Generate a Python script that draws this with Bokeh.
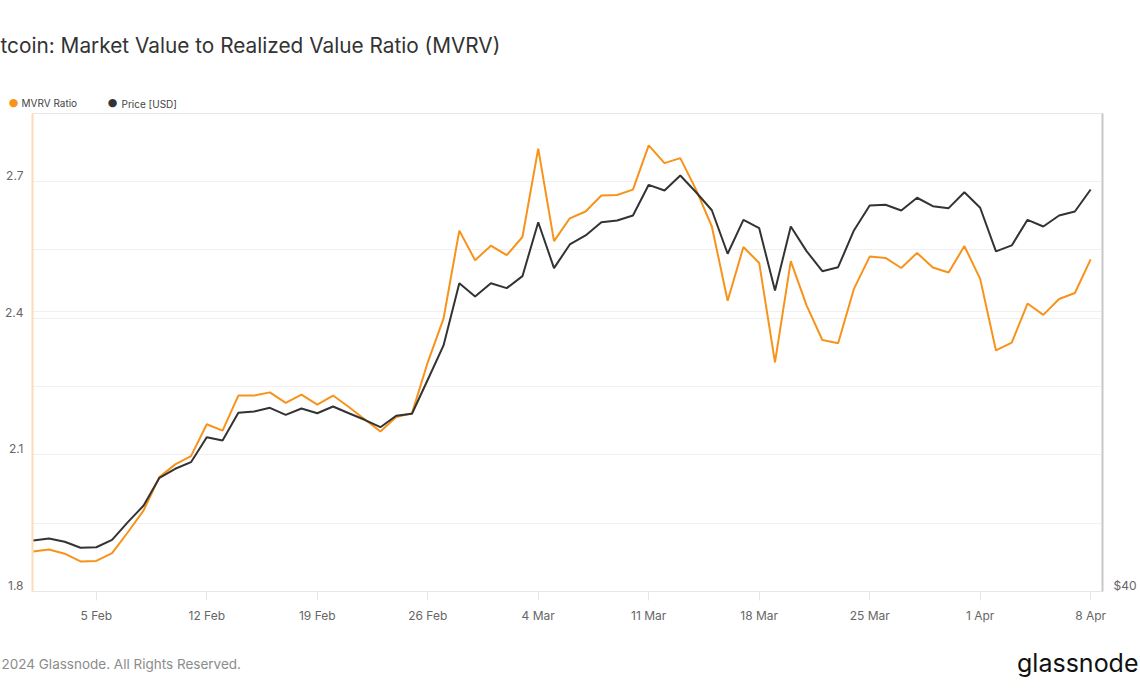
from datetime import datetime
import pandas as pd
from bokeh.plotting import figure
from bokeh.models import (Range1d, LinearAxis, LogAxis, LogScale, FixedTicker, Grid,
                          Label, ColumnDataSource)
from bokeh.embed import file_html
from bokeh.resources import INLINE

# ---------------- data ----------------
dates = pd.date_range("2024-02-01", "2024-04-08", freq="D")

mvrv = [
    # Feb
    1.888, 1.892, 1.883, 1.866, 1.867, 1.884, 1.930, 1.978, 2.051, 2.079,
    2.097, 2.167, 2.153, 2.230, 2.230, 2.237, 2.214, 2.232, 2.210, 2.230,
    2.205, 2.178, 2.151, 2.183, 2.191, 2.303, 2.399, 2.592, 2.527,
    # Mar
    2.559, 2.538, 2.578, 2.772, 2.569, 2.619, 2.634, 2.669, 2.670, 2.682,
    2.779, 2.740, 2.751, 2.682, 2.601, 2.438, 2.556, 2.521, 2.303, 2.525,
    2.428, 2.352, 2.345, 2.464, 2.535, 2.532, 2.510, 2.543, 2.511, 2.500,
    2.558,
    # Apr
    2.486, 2.329, 2.346, 2.432, 2.407, 2.442, 2.455, 2.529,
]

price = [
    # Feb
    43070, 43200, 42990, 42620, 42650, 43110, 44230, 45310, 47170, 47790,
    48250, 50030, 49790, 51830, 51930, 52210, 51680, 52160, 51800, 52310,
    51800, 51310, 50760, 51610, 51760, 54380, 57150, 62550, 61360,
    # Mar
    62550, 62100, 63190, 68330, 63930, 66160, 67030, 68330, 68500, 69000,
    72140, 71550, 73120, 71370, 69530, 65280, 68570, 67740, 61890, 67910,
    65530, 63650, 64020, 67520, 70010, 70080, 69500, 70800, 69940, 69740,
    71370,
    # Apr
    69780, 65500, 66070, 68570, 67910, 69000, 69400, 71650,
]

x_tick_dates = ["2024-02-05", "2024-02-12", "2024-02-19", "2024-02-26", "2024-03-04",
                "2024-03-11", "2024-03-18", "2024-03-25", "2024-04-01", "2024-04-08"]
x_tick_labels = ["5 Feb", "12 Feb", "19 Feb", "26 Feb", "4 Mar",
                 "11 Mar", "18 Mar", "25 Mar", "1 Apr", "8 Apr"]

mvrv_ticks = [1.8, 2.1, 2.4, 2.7]
mvrv_grid = [1.95, 2.1, 2.25, 2.4, 2.55, 2.7]
price_ticks = [40000]
price_tick_labels = ["$40"]
price_grid = [60000]

series_names = ["MVRV Ratio", "Price [USD]"]
title_text = "tcoin: Market Value to Realized Value Ratio (MVRV)"
footer_text = "2024 Glassnode. All Rights Reserved."
logo_text = "glassnode"

# ---------------- styling ----------------
ORANGE = "#F7931A"
DARK = "#333333"
FONT = "Inter"

W, H = 1140, 694
ML, MR, MT, MB = 32, 38, 113, 103
FRAME_H = H - MT - MB

y0, y1 = 1.8, 2.849
p0, p1 = 40000, 80000
lab_shift = 6 / (FRAME_H / (y1 - y0))          # tick labels sit 6px above their gridline
price_shift = 2 ** (6 / FRAME_H)

p = figure(width=W, height=H, x_axis_type="datetime", y_axis_location=None,
           x_range=Range1d(datetime(2024, 1, 31, 23), datetime(2024, 4, 8, 18)),
           y_range=Range1d(y0, y1),
           output_backend="svg", toolbar_location=None,
           min_border_left=ML, min_border_right=MR, min_border_top=MT, min_border_bottom=MB,
           background_fill_color="white", border_fill_color="white",
           outline_line_color="#e6e6e6")

p.extra_y_ranges = {
    "price": Range1d(p0, p1),
    "lab": Range1d(y0 - lab_shift, y1 - lab_shift),
    "price_lab": Range1d(p0 / price_shift, p1 / price_shift),
}
p.extra_y_scales = {"price": LogScale(), "price_lab": LogScale()}

p.xgrid.visible = False
p.ygrid.visible = False

p.add_layout(Grid(dimension=1, ticker=FixedTicker(ticks=mvrv_grid),
                  grid_line_color="#f0f0f0", grid_line_width=1))
p.add_layout(Grid(dimension=1, ticker=FixedTicker(ticks=price_grid), y_range_name="price",
                  grid_line_color="#f0f0f0", grid_line_width=1))

src = ColumnDataSource(dict(date=dates, mvrv=mvrv, price=price))
p.line("date", "mvrv", source=src, line_color=ORANGE, line_width=2)
p.line("date", "price", source=src, line_color=DARK, line_width=2, y_range_name="price")

xa = p.xaxis[0]
tick_ms = [int(pd.Timestamp(d).timestamp() * 1000) for d in x_tick_dates]
xa.ticker = FixedTicker(ticks=tick_ms)
xa.major_label_overrides = dict(zip(tick_ms, x_tick_labels))
xa.axis_line_color = "#e6e6e6"
xa.major_tick_in = 0
xa.major_tick_out = 9
xa.major_tick_line_color = "#e6e6e6"
xa.minor_tick_line_color = None
xa.major_label_standoff = 7
xa.major_label_text_font = FONT
xa.major_label_text_font_size = "12px"
xa.major_label_text_color = "#666666"

ax_l = LinearAxis(y_range_name="lab", ticker=FixedTicker(ticks=mvrv_ticks),
                  axis_line_color="#fcdcb4", axis_line_width=2,
                  major_tick_line_color=None, minor_tick_line_color=None,
                  major_tick_in=0, major_tick_out=0, major_label_standoff=9,
                  major_label_text_font=FONT, major_label_text_font_size="12px",
                  major_label_text_color="#666666")
p.add_layout(ax_l, "left")

ax_r = LogAxis(y_range_name="price_lab", ticker=FixedTicker(ticks=price_ticks),
               major_label_overrides=dict(zip(price_ticks, price_tick_labels)),
               axis_line_color="#c8c8c8", axis_line_width=2,
               major_tick_line_color=None, minor_tick_line_color=None,
               major_tick_in=0, major_tick_out=0, major_label_standoff=11,
               major_label_text_font=FONT, major_label_text_font_size="12px",
               major_label_text_color="#666666")
p.add_layout(ax_r, "right")


def txt(text, x, y, size, color, align="left", font=FONT):
    return Label(x=x, y=y, x_units="screen", y_units="screen", text=text,
                 text_font=font, text_font_size=size, text_color=color,
                 text_baseline="middle", text_align=align)


# ---------------- above panel: legend keys + title (stacked outward from the frame) ----
p.add_layout(txt("\u25CF", -19, 11, "11px", ORANGE, "center", "DejaVu Sans"), "above")
p.add_layout(txt(series_names[0], -11, -2, "10px", "#444444"), "above")
p.add_layout(txt("\u25CF", 80, -14, "11px", DARK, "center", "DejaVu Sans"), "above")
p.add_layout(txt(series_names[1], 89, -28, "10px", "#444444"), "above")
p.add_layout(txt(title_text, -32, 18, "20.8px", "#333333"), "above")

# ---------------- below panel: footer + logo ----------------
p.add_layout(txt(footer_text, -31, -22, "13.5px", "#8c8c8c"), "below")
p.add_layout(txt(logo_text, W - ML - 2, 9, "25px", "#111111", "right"), "below")

open("out.html", "w").write(file_html(p, INLINE))
